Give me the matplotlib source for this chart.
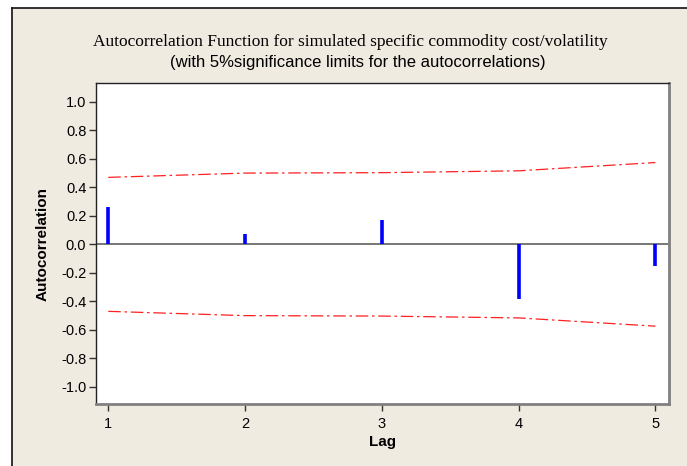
import matplotlib
matplotlib.use("Agg")
import matplotlib.pyplot as plt
from matplotlib.lines import Line2D
from matplotlib.patches import Rectangle

# autocorrelation values by lag, with the 5% significance limits
lags = [1, 2, 3, 4, 5]
acf = [0.26, 0.07, 0.17, -0.38, -0.15]
upper_limit = [0.47, 0.50, 0.503, 0.516, 0.574]
lower_limit = [-v for v in upper_limit]
yticks = [1.0, 0.8, 0.6, 0.4, 0.2, 0.0, -0.2, -0.4, -0.6, -0.8, -1.0]

BG = "#EFEBE1"
SANS = "Liberation Sans"

fig = plt.figure(figsize=(6.87, 4.66), dpi=100, facecolor="white")

# beige panel with a dark edge on the left and top
fx0, fy1 = 12 / 687, 1 - 8 / 466
fig.patches.append(Rectangle((fx0, 0), 1 - fx0, fy1, transform=fig.transFigure,
                             facecolor=BG, edgecolor="none", zorder=-10))
fig.lines.append(Line2D([fx0, fx0], [0, fy1], transform=fig.transFigure,
                        color="#111111", lw=1.2, zorder=-5))
fig.lines.append(Line2D([fx0, 1], [fy1, fy1], transform=fig.transFigure,
                        color="#111111", lw=1.2, zorder=-5))

ax = fig.add_axes([96 / 687, 1 - 404 / 466, (669 - 96) / 687, (404 - 83.3) / 466])
ax.set_facecolor("white")

ax.axhline(0, color="#777777", lw=1.4, zorder=1)
ax.vlines(lags, 0, acf, colors="#0000FF", lw=2.6, zorder=3)
ax.plot(lags, upper_limit, color="#FF2020", lw=0.9, dashes=(10, 3, 2, 3), zorder=2)
ax.plot(lags, lower_limit, color="#FF2020", lw=0.9, dashes=(10, 3, 2, 3), zorder=2)

ax.set_xlim(0.91, 5.10)
ax.set_ylim(-1.12, 1.13)
ax.set_xticks(lags)
ax.set_xticklabels([str(l) for l in lags], fontfamily=SANS, fontsize=10.5)
ax.set_yticks(yticks)
ax.set_yticklabels(["%.1f" % v for v in yticks], fontfamily=SANS, fontsize=10.5)
ax.tick_params(direction="out", length=5, width=1, color="#333333")
ax.tick_params(axis="x", pad=4)
ax.tick_params(axis="y", pad=2)

for side in ("left", "top"):
    ax.spines[side].set_color("#222222")
    ax.spines[side].set_linewidth(1.0)
for side in ("right", "bottom"):
    ax.spines[side].set_color("#808080")
    ax.spines[side].set_linewidth(2.0)

ax.set_xlabel("Lag", fontfamily=SANS, fontsize=11, fontweight="bold", labelpad=3)
ax.set_ylabel("Autocorrelation", fontfamily=SANS, fontsize=11, fontweight="bold", labelpad=8)

fig.text(350 / 687, 1 - 42 / 466, "Autocorrelation Function for simulated specific commodity cost/volatility",
         ha="center", va="center", fontfamily="Liberation Serif", fontsize=12.5)
fig.text(358 / 687, 1 - 63 / 466, "(with 5%significance limits for the autocorrelations)",
         ha="center", va="center", fontfamily=SANS, fontsize=12)

fig.savefig("out.png", dpi=100, facecolor="white")
